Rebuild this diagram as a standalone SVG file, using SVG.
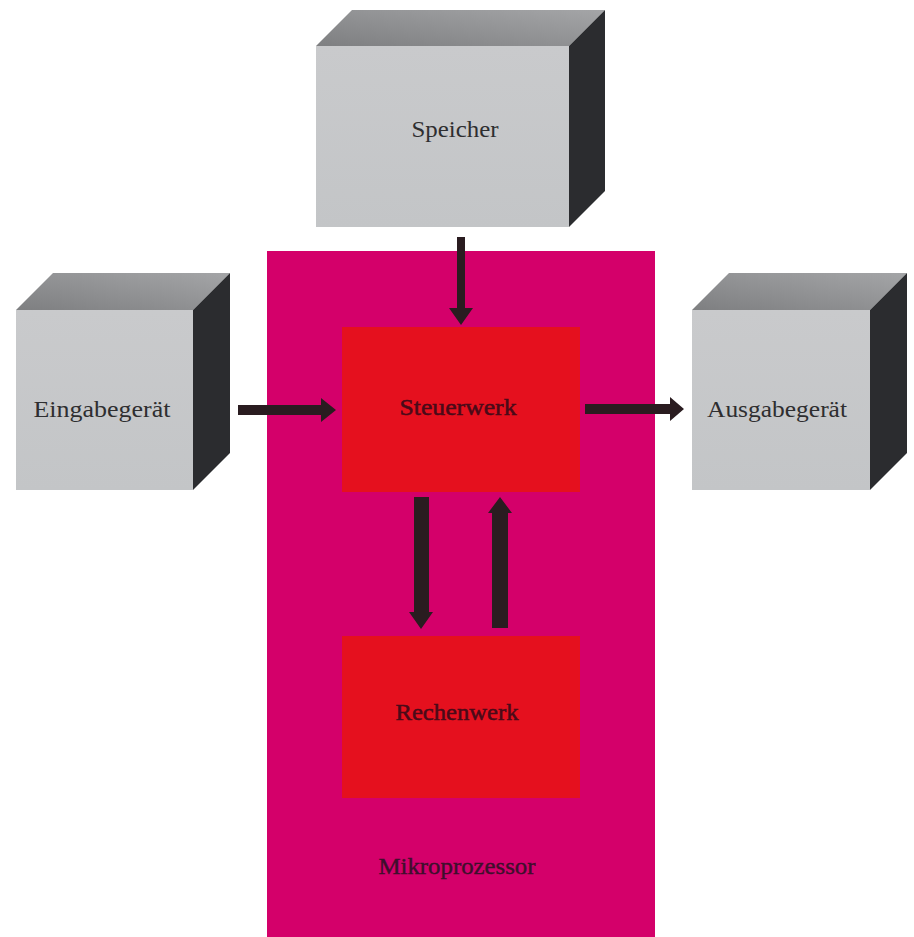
<svg xmlns="http://www.w3.org/2000/svg" width="914" height="937" viewBox="0 0 914 937">
<defs>
<linearGradient id="topg" x1="0" y1="1" x2="1" y2="0">
<stop offset="0" stop-color="#7e7f81"/>
<stop offset="1" stop-color="#a4a5a7"/>
</linearGradient>
<linearGradient id="frontg" x1="0" y1="0" x2="0" y2="1">
<stop offset="0" stop-color="#c9cacc"/>
<stop offset="1" stop-color="#c3c5c7"/>
</linearGradient>
<style>
.front{fill:url(#frontg)}
.top{fill:url(#topg)}
.side{fill:#2b2c2f}
.lbl{font-family:"Liberation Serif","Times New Roman",serif;font-size:23px;fill:#2e2e30;text-anchor:middle}
.lblr{font-family:"Liberation Serif","Times New Roman",serif;font-size:23px;fill:#4a0a18;stroke:#4a0a18;stroke-width:0.5;text-anchor:middle}
.lblp{font-family:"Liberation Serif","Times New Roman",serif;font-size:23px;fill:#3e0f2c;stroke:#3e0f2c;stroke-width:0.4;text-anchor:middle}
.arr{fill:#2a1c20}
</style>
</defs>
<rect width="914" height="937" fill="#ffffff"/>

<g id="mikroprozessor">
<rect x="267" y="251" width="388" height="686" fill="#d4006a"/>
<text class="lblp" x="457" y="874" textLength="157" lengthAdjust="spacingAndGlyphs">Mikroprozessor</text>
</g>

<g id="steuerwerk">
<rect x="342" y="327" width="238" height="165" fill="#e5101e"/>
<text class="lblr" x="458" y="415" textLength="117" lengthAdjust="spacingAndGlyphs">Steuerwerk</text>
</g>

<g id="rechenwerk">
<rect x="342" y="636" width="238" height="162" fill="#e5101e"/>
<text class="lblr" x="457" y="720" textLength="123" lengthAdjust="spacingAndGlyphs">Rechenwerk</text>
</g>

<g id="speicher">
<rect class="front" x="316" y="46" width="253" height="181"/>
<polygon class="top" points="316,46 352,10 605,10 569,46"/>
<polygon class="side" points="569,46 605,10 605,191 569,227"/>
<text class="lbl" x="455" y="137" textLength="87" lengthAdjust="spacingAndGlyphs">Speicher</text>
</g>

<g id="eingabegeraet">
<rect class="front" x="16" y="310" width="177" height="180"/>
<polygon class="top" points="16,310 53,273 230,273 193,310"/>
<polygon class="side" points="193,310 230,273 230,453 193,490"/>
<text class="lbl" x="102" y="417" textLength="137" lengthAdjust="spacingAndGlyphs">Eingabegerät</text>
</g>

<g id="ausgabegeraet">
<rect class="front" x="692" y="310" width="178" height="180"/>
<polygon class="top" points="692,310 729,273 907,273 870,310"/>
<polygon class="side" points="870,310 907,273 907,453 870,490"/>
<text class="lbl" x="777" y="417" textLength="140" lengthAdjust="spacingAndGlyphs">Ausgabegerät</text>
</g>

<g id="connectors">
<polygon class="arr" points="457,237 465,237 465,308 473,308 461,325 449,308 457,308"/>
<polygon class="arr" points="238,405 321,405 321,398 336,410 321,422 321,415 238,415"/>
<polygon class="arr" points="585,404 670,404 670,397 684,409 670,421 670,414 585,414"/>
<polygon class="arr" points="414,497 429,497 429,612 433,612 421,629 409,612 414,612"/>
<polygon class="arr" points="492,628 508,628 508,513 512,513 500,497 488,513 492,513"/>
</g>
</svg>
